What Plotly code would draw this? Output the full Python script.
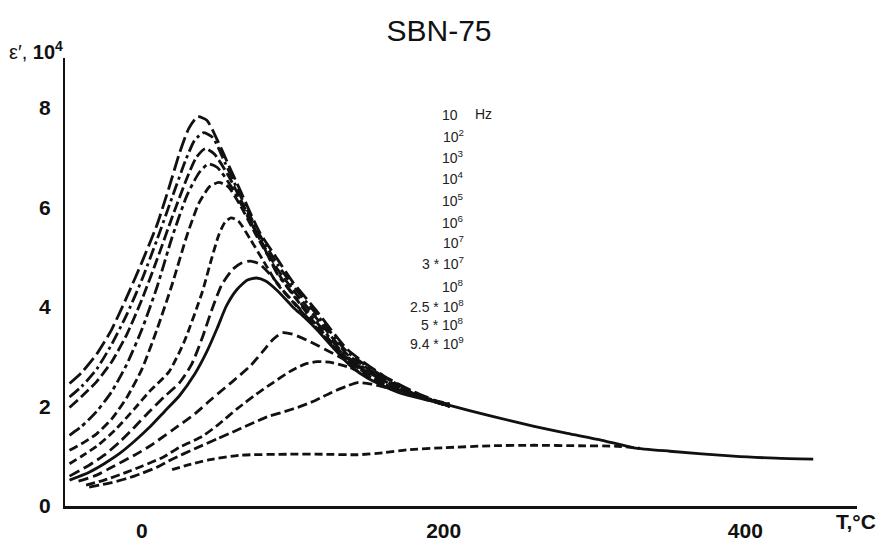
import plotly.graph_objects as go

# Dielectric permittivity of SBN-75 vs temperature for several measuring frequencies
freq_labels = ["10", "10<sup>2</sup>", "10<sup>3</sup>", "10<sup>4</sup>", "10<sup>5</sup>",
               "10<sup>6</sup>", "10<sup>7</sup>", "3 * 10<sup>7</sup>", "10<sup>8</sup>",
               "2.5 * 10<sup>8</sup>", "5 * 10<sup>8</sup>", "9.4 * 10<sup>9</sup>"]

# temperature, degrees C / permittivity, units of 10^4
t_10 = [-48, -40, -30, -20, -10, 0, 10, 18, 25, 31, 37, 43, 50, 57, 65, 78, 90, 100, 115, 136, 160, 180, 204]
e_10 = [2.46, 2.68, 3.05, 3.55, 4.2, 4.9, 5.65, 6.4, 7.1, 7.58, 7.82, 7.75, 7.35, 6.88, 6.35, 5.5, 4.95, 4.5, 3.95, 3.15, 2.62, 2.3, 2.0]

t_1e2 = [-48, -40, -30, -20, -10, 0, 10, 20, 29, 35, 41, 47, 55, 65, 78, 90, 100, 115, 136, 160, 180, 204]
e_1e2 = [2.19, 2.4, 2.75, 3.25, 3.85, 4.55, 5.35, 6.2, 6.95, 7.35, 7.5, 7.4, 6.9, 6.25, 5.45, 4.85, 4.43, 3.88, 3.1, 2.6, 2.28, 2.0]

t_1e3 = [-48, -40, -30, -20, -10, 0, 10, 20, 30, 36, 42, 48, 58, 68, 78, 90, 100, 115, 136, 160, 180, 204]
e_1e3 = [1.98, 2.2, 2.5, 2.9, 3.45, 4.15, 4.95, 5.8, 6.6, 7.0, 7.18, 7.07, 6.6, 6.0, 5.38, 4.75, 4.35, 3.8, 3.05, 2.57, 2.26, 2.0]

t_1e4 = [-48, -40, -30, -20, -10, 0, 10, 20, 30, 38, 44, 50, 60, 70, 80, 90, 100, 115, 136, 160, 180, 204]
e_1e4 = [1.42, 1.6, 1.9, 2.3, 2.85, 3.55, 4.4, 5.4, 6.25, 6.7, 6.87, 6.8, 6.38, 5.82, 5.25, 4.65, 4.27, 3.72, 3.0, 2.55, 2.25, 2.0]

t_1e5 = [-48, -40, -30, -20, -10, 0, 10, 20, 30, 38, 45, 51, 57, 65, 75, 85, 95, 105, 115, 136, 160, 180, 204]
e_1e5 = [1.12, 1.25, 1.45, 1.75, 2.18, 2.75, 3.55, 4.45, 5.45, 6.1, 6.42, 6.5, 6.42, 6.05, 5.48, 4.95, 4.45, 4.05, 3.66, 2.97, 2.53, 2.24, 2.0]

t_1e6 = [-48, -40, -30, -18, -5, 5, 18, 28, 40, 46, 51, 55, 59, 64, 72, 80, 90, 100, 115, 136, 160, 180, 204]
e_1e6 = [0.85, 1.0, 1.2, 1.52, 1.95, 2.3, 2.7, 3.3, 4.3, 4.95, 5.45, 5.7, 5.79, 5.72, 5.35, 4.95, 4.45, 4.1, 3.6, 2.94, 2.52, 2.23, 2.0]

t_1e7 = [-48, -35, -25, -15, -6, 5, 15, 25, 33, 40, 47, 53, 60, 66, 72, 78, 86, 95, 105, 115, 136, 160, 180, 204]
e_1e7 = [0.6, 0.82, 1.02, 1.28, 1.55, 1.9, 2.2, 2.48, 2.85, 3.38, 4.0, 4.45, 4.75, 4.88, 4.92, 4.86, 4.62, 4.28, 3.95, 3.6, 2.9, 2.5, 2.23, 2.0]

t_3e7 = [-48, -35, -25, -15, -5, 5, 15, 25, 35, 43, 50, 56, 63, 70, 76, 82, 90, 100, 108, 116, 127, 138, 150, 171,
         190, 204, 231, 260, 282, 305, 326, 350, 392, 420, 445]
e_3e7 = [0.52, 0.68, 0.85, 1.05, 1.3, 1.58, 1.9, 2.22, 2.65, 3.1, 3.58, 4.02, 4.35, 4.54, 4.58, 4.52, 4.32, 4.0, 3.78, 3.54,
         3.17, 2.82, 2.56, 2.27, 2.12, 2.02, 1.81, 1.6, 1.46, 1.32, 1.17, 1.1, 1.0, 0.96, 0.94]

t_1e8 = [-42, -30, -20, -5, 5, 20, 35, 47, 60, 72, 80, 87, 93, 100, 110, 127, 140, 150, 171, 190, 204]
e_1e8 = [0.5, 0.62, 0.78, 1.02, 1.2, 1.52, 1.85, 2.17, 2.5, 2.82, 3.1, 3.35, 3.48, 3.45, 3.32, 3.06, 2.84, 2.62, 2.3, 2.14, 2.04]

t_25e8 = [-37, -25, -10, 0, 14, 25, 40, 50, 63, 76, 87, 98, 108, 116, 126, 138, 150, 171, 190, 204]
e_25e8 = [0.42, 0.52, 0.68, 0.8, 0.98, 1.18, 1.4, 1.62, 1.95, 2.25, 2.48, 2.7, 2.85, 2.9, 2.88, 2.78, 2.6, 2.32, 2.15, 2.05]

t_5e8 = [-35, -20, -5, 10, 20, 35, 50, 65, 83, 95, 105, 115, 125, 135, 143, 152, 165, 180, 195, 204]
e_5e8 = [0.38, 0.47, 0.6, 0.78, 0.94, 1.15, 1.35, 1.55, 1.79, 1.9, 2.0, 2.12, 2.27, 2.4, 2.48, 2.45, 2.35, 2.22, 2.1, 2.04]

t_94e9 = [20, 30, 45, 65, 98, 120, 143, 160, 176, 200, 231, 260, 290, 315, 330]
e_94e9 = [0.73, 0.82, 0.93, 1.02, 1.04, 1.04, 1.03, 1.07, 1.13, 1.17, 1.21, 1.22, 1.21, 1.2, 1.16]

series = [(t_10, e_10), (t_1e2, e_1e2), (t_1e3, e_1e3), (t_1e4, e_1e4), (t_1e5, e_1e5), (t_1e6, e_1e6),
          (t_1e7, e_1e7), (t_3e7, e_3e7), (t_1e8, e_1e8), (t_25e8, e_25e8), (t_5e8, e_5e8), (t_94e9, e_94e9)]
dashes = ["15px,5px", "12px,4px,3px,4px", "11px,4px", "12px,4px,4px,4px", "9px,4px", "8px,4px",
          "11px,5px", "solid", "10px,5px", "9px,4px", "10px,4px", "8px,4px"]

fig = go.Figure()
for (tx, ey), dash, name in zip(series, dashes, freq_labels):
    fig.add_trace(go.Scatter(x=tx, y=ey, mode="lines", name=name,
                             line=dict(color="#111111", width=2.8, dash=dash,
                                       shape="spline", smoothing=0.6),
                             showlegend=False))

tick_font = dict(family="Liberation Sans Narrow, Arial Narrow, Liberation Sans, Arial",
                 size=21, color="#111111", weight="bold")

fig.update_layout(
    width=878, height=554,
    margin=dict(l=65, r=21, t=58, b=28),
    paper_bgcolor="white", plot_bgcolor="white",
    xaxis=dict(range=[-51, 474], tickvals=[0, 200, 400], showgrid=False, zeroline=False,
               showline=True, linecolor="#111111", linewidth=3, ticks="",
               tickfont=tick_font, ticklabelstandoff=4),
    yaxis=dict(range=[0, 9], tickvals=[0, 2, 4, 6, 8], showgrid=False, zeroline=False,
               showline=True, linecolor="#111111", linewidth=2, ticks="",
               tickfont=tick_font, ticklabelstandoff=8),
    title=dict(text="SBN-75", x=0.5, xref="container", y=1 - 30 / 554, yref="container",
               xanchor="center", yanchor="middle",
               font=dict(family="Liberation Sans, Arial", size=30, color="#111111")),
)

# axis captions
fig.add_annotation(text="ε′, <b>10<sup>4</sup></b>", xref="paper", yref="paper",
                   x=0.0, y=(526 - 50) / 468, xanchor="right", yanchor="middle", showarrow=False,
                   font=dict(family="Liberation Sans Narrow, Arial Narrow, Liberation Sans, Arial",
                             size=20, color="#111111"))
fig.add_annotation(text="<b>T,°C</b>", xref="paper", yref="paper",
                   x=(856 - 65) / 792, y=(526 - 542) / 468, xanchor="center", yanchor="middle",
                   showarrow=False, font=tick_font)

# frequency list
label_rows = [118, 140, 161, 183, 206, 229, 250, 272, 296, 317, 336, 356]
lab_font = dict(family="Liberation Sans, Arial", size=14, color="#222222")
for i, (lab, row) in enumerate(zip(freq_labels, label_rows)):
    xr = 460 if i == 0 else 466
    fig.add_annotation(text=lab, xref="paper", yref="paper", x=(xr - 65) / 792,
                       y=(526 - row) / 468, xanchor="right", yanchor="middle",
                       showarrow=False, font=lab_font)
fig.add_annotation(text="Hz", xref="paper", yref="paper", x=(473 - 65) / 792,
                   y=(526 - 116) / 468, xanchor="left", yanchor="middle",
                   showarrow=False, font=lab_font)

fig.write_html("out.html")
